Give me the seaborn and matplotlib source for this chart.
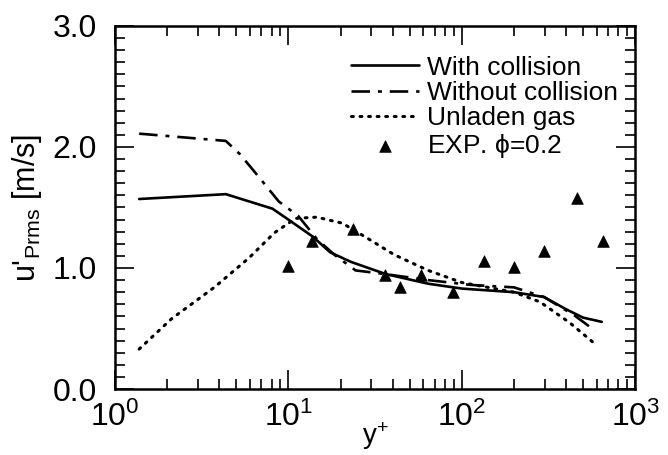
import seaborn as sns
import matplotlib.pyplot as plt
import matplotlib.ticker as mticker
import matplotlib

# values
with_x = [1.38, 4.36, 8.1, 10, 13.8, 17.4, 23, 36.4, 64, 100, 200, 298, 398, 500, 641]
with_y = [1.57, 1.61, 1.49, 1.40, 1.26, 1.13, 1.05, 0.95, 0.87, 0.83, 0.80, 0.76, 0.66, 0.59, 0.555]

without_x = [1.38, 4.36, 5.26, 6.6, 8.8, 11.4, 14.6, 18.4, 24.4, 36, 64, 113, 200, 298, 444, 589]
without_y = [2.11, 2.05, 1.94, 1.77, 1.55, 1.43, 1.24, 1.11, 0.98, 0.95, 0.90, 0.86, 0.84, 0.76, 0.61, 0.48]

unladen_x = [1.38, 2.12, 3.74, 5.9, 8.3, 11, 14.6, 20.5, 29, 40.7, 64, 100, 200, 282, 417, 589]
unladen_y = [0.33, 0.58, 0.84, 1.08, 1.29, 1.41, 1.42, 1.37, 1.24, 1.11, 0.98, 0.88, 0.80, 0.72, 0.55, 0.37]

exp_x = [10, 13.6, 23.7, 35.9, 43.8, 58, 89, 134, 200, 298, 464, 653]
exp_y = [1.02, 1.22, 1.32, 0.94, 0.84, 0.94, 0.80, 1.06, 1.01, 1.14, 1.58, 1.22]

sns.set_style("ticks")
matplotlib.rc('font', family=['Liberation Sans', 'DejaVu Sans'])
matplotlib.rcParams['mathtext.fontset'] = 'custom'
matplotlib.rcParams['mathtext.rm'] = 'Liberation Sans'
matplotlib.rcParams['mathtext.it'] = 'Liberation Sans'
for key in ['text.color', 'axes.labelcolor', 'xtick.color', 'ytick.color', 'axes.edgecolor']:
    matplotlib.rcParams[key] = 'black'

fig = plt.figure(figsize=(6.68, 4.55), dpi=100)
ax = fig.add_axes([0.172, 0.145, 0.779, 0.798])

sns.lineplot(x=with_x, y=with_y, ax=ax, color='black', lw=1.9, sort=False,
             estimator=None, label='With collision')
sns.lineplot(x=without_x, y=without_y, ax=ax, color='black', lw=1.9, sort=False,
             estimator=None, linestyle=(0, (7, 3, 1.5, 3)), label='Without collision')
sns.lineplot(x=unladen_x, y=unladen_y, ax=ax, color='black', lw=2.2, sort=False,
             estimator=None, linestyle=(0, (0.6, 2.2)), dash_capstyle='round',
             label='Unladen gas')
sns.scatterplot(x=exp_x, y=exp_y, ax=ax, color='black', marker='^', s=70,
                edgecolor='black', linewidth=0.5, label=r'EXP. $\phi$=0.2', zorder=5)

ax.set_xscale('log')
ax.set_xlim(1, 1000)
ax.set_ylim(0, 3)
ax.set_yticks([0, 1, 2, 3])
ax.yaxis.set_major_formatter(mticker.FormatStrFormatter('%.1f'))
ax.yaxis.set_minor_locator(mticker.MultipleLocator(0.1))
ax.xaxis.set_minor_locator(mticker.LogLocator(base=10, subs=range(2, 10)))
ax.xaxis.set_minor_formatter(mticker.NullFormatter())

ax.tick_params(which='both', direction='in', top=True, right=True, labelsize=23,
               width=1.2, colors='black')
ax.tick_params(which='major', length=14)
ax.tick_params(which='minor', length=7.5)
ax.tick_params(axis='x', pad=9)
ax.tick_params(axis='y', pad=13)
for spine in ax.spines.values():
    spine.set_linewidth(1.8)
    spine.set_color('black')

ax.set_xlabel(r'y$^{+}$', fontsize=20, labelpad=-9)
ax.set_ylabel(r"u$'_{\rm Prms}$ [m/s]", fontsize=22, labelpad=6)

leg = ax.legend(loc='upper right', bbox_to_anchor=(0.967, 0.918), frameon=False,
                fontsize=19, labelspacing=0.05, handlelength=2.6, handletextpad=0.3,
                borderaxespad=0, borderpad=0)

fig.savefig('out.png', dpi=100)
